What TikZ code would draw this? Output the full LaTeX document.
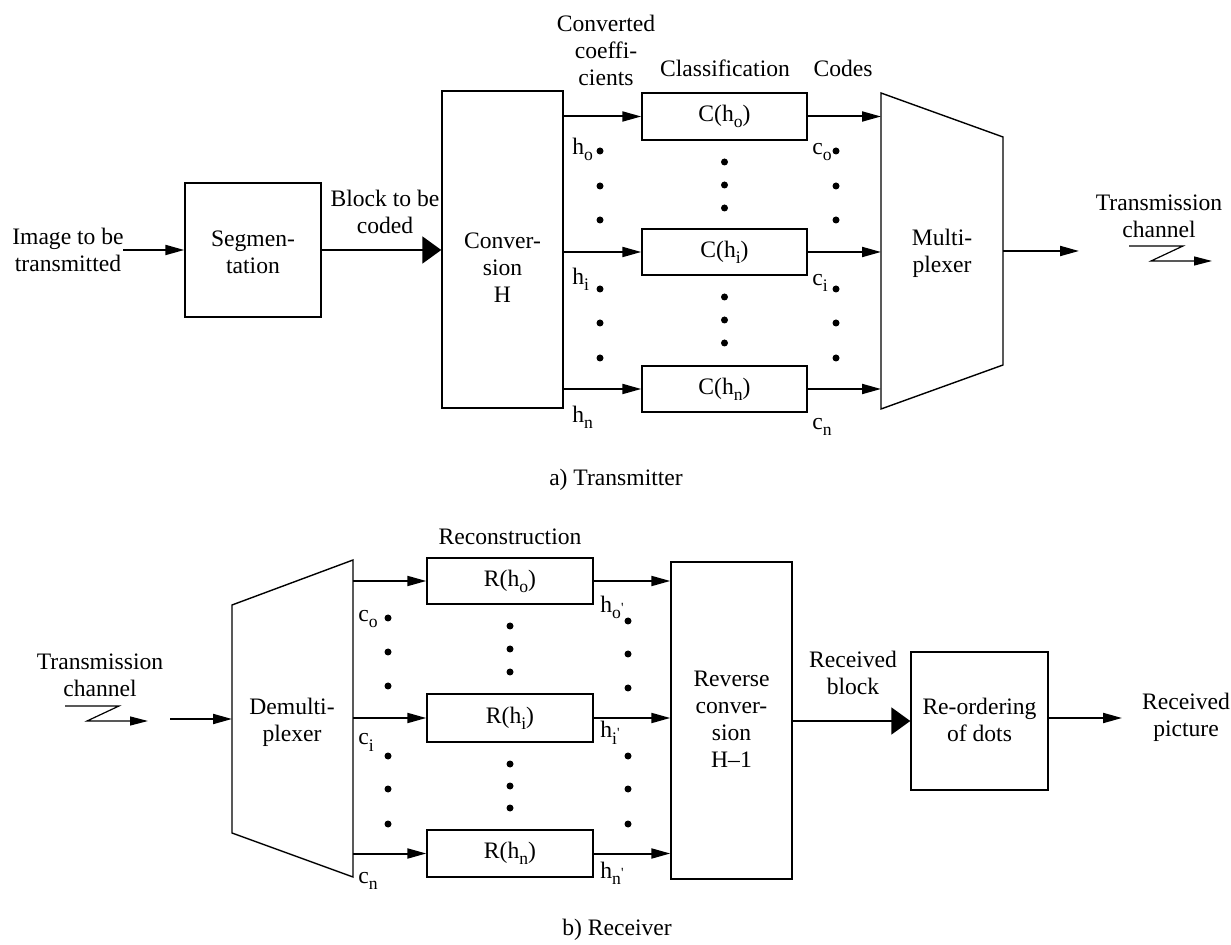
\documentclass[tikz,border=0pt]{standalone}
\usepackage{fontspec}
\setmainfont{Liberation Serif}
\usetikzlibrary{arrows.meta,calc}
\newcommand{\sbx}[1]{\raisebox{-3pt}{\fontsize{8.8}{8.8}\selectfont #1}}
\newcommand{\sbp}[1]{\raisebox{-3pt}{\fontsize{8.8}{8.8}\selectfont #1\raisebox{3.2pt}{\fontsize{7}{7}\selectfont\textquotesingle}}}
\begin{document}
\begin{tikzpicture}[x=0.5pt,y=-0.5pt,
  every node/.style={font=\fontsize{11.8}{13.5}\selectfont, inner sep=0pt},
  box/.style={draw, line width=0.7pt},
  txt/.style={align=center},
  arr/.style={line width=1pt, -{Triangle[length=9.5pt,width=5pt]}},
  bigarr/.style={line width=1pt, -{Triangle[length=9.5pt,width=13.5pt]}},
  zig/.style={line width=0.6pt, -{Triangle[length=9pt,width=4.5pt]}}]
\useasboundingbox (0,0) rectangle (1231,945);

% ---------------- Transmitter ----------------
\node[txt] (img) at (68,250) {Image to be\\transmitted};
\node[box, minimum width=68pt, minimum height=67pt] (seg) at (253,250) {};
\node[txt] (segt) at (253,252) {Segmen-\\tation};
\node[txt] (blk) at (385,212) {Block to be\\coded};
\node[box, minimum width=60.5pt, minimum height=158.5pt] (conv) at (502.5,249.5) {};
\node[txt] (convt) at (502.5,268) {Conver-\\sion\\H};
\node[txt] (cc) at (606,50) {Converted\\coeffi-\\cients};
\node (cls) at (725,68) {Classification};
\node (codes) at (843,68) {Codes};

\node[box, minimum width=82.5pt, minimum height=23.5pt] (Co) at (724.5,116.5) {C(h\sbx{o})};
\node[box, minimum width=82.5pt, minimum height=23pt] (Ci) at (724.5,252) {C(h\sbx{i})};
\node[box, minimum width=82.5pt, minimum height=23pt] (Cn) at (724.5,389) {C(h\sbx{n})};

\coordinate (mux-nw) at (881,93);
\coordinate (mux-ne) at (1003,137);
\coordinate (mux-se) at (1003,365);
\coordinate (mux-sw) at (881,409);
\draw[box] (mux-nw) -- (mux-ne) -- (mux-se) -- (mux-sw) -- cycle;
\node[txt] (muxt) at (942,253) {Multi-\\plexer};

\coordinate (imgout) at (123,250);
\draw[arr] (imgout) -- (seg.west);
\draw[bigarr] (seg.east) -- (seg.east -| conv.west);
\draw[arr] (conv.east |- Co.west) -- (Co.west);
\draw[arr] (conv.east |- Ci.west) -- (Ci.west);
\draw[arr] (conv.east |- Cn.west) -- (Cn.west);
\draw[arr] (Co.east) -- (Co.east -| mux-nw);
\draw[arr] (Ci.east) -- (Ci.east -| mux-nw);
\draw[arr] (Cn.east) -- (Cn.east -| mux-nw);
\coordinate (muxout) at (1079,251);
\draw[arr] (mux-ne |- muxout) -- (muxout);

% labels h and c
\node[anchor=base west] (ho) at (572,155) {h\sbx{o}};
\node[anchor=base west] (hi) at (572,285) {h\sbx{i}};
\node[anchor=base west] (hn) at (572,423) {h\sbx{n}};
\node[anchor=base west] (co) at (812,155) {c\sbx{o}};
\node[anchor=base west] (ci) at (812,286) {c\sbx{i}};
\node[anchor=base west] (cn) at (812,430) {c\sbx{n}};

% dots
\foreach \y in {151,186,220,289,323,358}{
  \fill (600,\y) circle (1.75pt);
  \fill (836,\y) circle (1.75pt);
}
\foreach \y in {162,185,208,297,320,343}{
  \fill (724.5,\y) circle (1.75pt);
}

% transmission channel (top)
\node[txt] (tch1) at (1159,216) {Transmission\\channel};
\coordinate (z1a) at (1129,246);
\coordinate (z1b) at (1183,246);
\coordinate (z1c) at (1151,261);
\coordinate (z1d) at (1212,261);
\draw[zig] (z1a) -- (z1b) -- (z1c) -- (z1d);

\node (tx) at (616,480) {a) Transmitter};

% ---------------- Receiver ----------------
\node[txt] (tch2) at (100,675) {Transmission\\channel};
\coordinate (z2a) at (65,706);
\coordinate (z2b) at (119,706);
\coordinate (z2c) at (87,721);
\coordinate (z2d) at (148,721);
\draw[zig] (z2a) -- (z2b) -- (z2c) -- (z2d);

\coordinate (dmx-nw) at (232,605);
\coordinate (dmx-ne) at (353,560);
\coordinate (dmx-se) at (353,877);
\coordinate (dmx-sw) at (232,833);
\draw[box] (dmx-nw) -- (dmx-ne) -- (dmx-se) -- (dmx-sw) -- cycle;
\node[txt] (dmxt) at (292,722) {Demulti-\\plexer};
\coordinate (dmxin) at (170,719);
\draw[arr] (dmxin) -- (dmxin -| dmx-nw);

\node (rec) at (510,537) {Reconstruction};
\node[box, minimum width=83pt, minimum height=23pt] (Ro) at (510,581) {R(h\sbx{o})};
\node[box, minimum width=83pt, minimum height=24pt] (Ri) at (510,718) {R(h\sbx{i})};
\node[box, minimum width=83pt, minimum height=23.5pt] (Rn) at (510,853.5) {R(h\sbx{n})};

\node[box, minimum width=60.5pt, minimum height=158.5pt] (rev) at (731.5,720.5) {};
\node[txt] (revt) at (731.5,719) {Reverse\\conver-\\sion\\H--1};

\node[box, minimum width=68.5pt, minimum height=69pt] (reord) at (979.5,721) {};
\node[txt] (reordt) at (979.5,720) {Re-ordering\\of dots};

\draw[arr] (Ro.west -| dmx-ne) -- (Ro.west);
\draw[arr] (Ri.west -| dmx-ne) -- (Ri.west);
\draw[arr] (Rn.west -| dmx-ne) -- (Rn.west);
\draw[arr] (Ro.east) -- (Ro.east -| rev.west);
\draw[arr] (Ri.east) -- (Ri.east -| rev.west);
\draw[arr] (Rn.east) -- (Rn.east -| rev.west);
\draw[bigarr] (rev.east |- reord.west) -- (reord.west);
\node[txt] (rb) at (853,673) {Received\\block};
\coordinate (picin) at (1122,718);
\draw[arr] (reord.east |- picin) -- (picin);
\node[txt] (rp) at (1186,717) {Received\\picture};

\node[anchor=base west] (co2) at (358,622) {c\sbx{o}};
\node[anchor=base west] (ci2) at (358,745) {c\sbx{i}};
\node[anchor=base west] (cn2) at (358,883) {c\sbx{n}};
\node[anchor=base west] (ho2) at (600,613) {h\sbp{o}};
\node[anchor=base west] (hi2) at (600,738) {h\sbp{i}};
\node[anchor=base west] (hn2) at (600,878) {h\sbp{n}};

\foreach \y in {618,652,686,756,789,824}{
  \fill (388,\y) circle (1.75pt);
}
\foreach \y in {621,654,688,756,789,824}{
  \fill (628,\y) circle (1.75pt);
}
\foreach \y in {626,649,672,764,786,808}{
  \fill (510,\y) circle (1.75pt);
}

\node (rx) at (617,930) {b) Receiver};
\end{tikzpicture}
\end{document}
